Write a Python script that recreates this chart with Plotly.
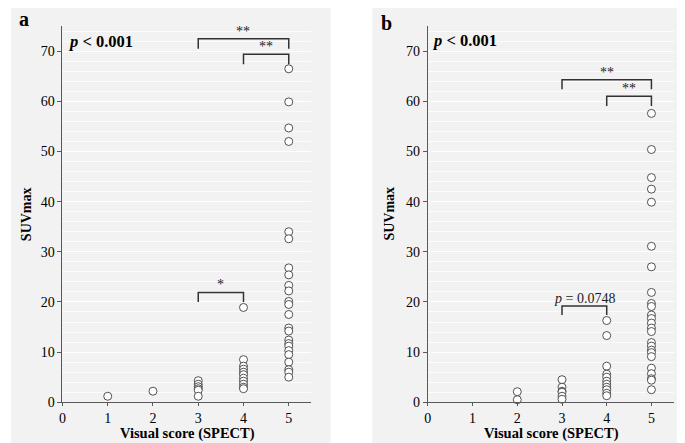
import plotly.graph_objects as go

# ---------------- data ----------------
x_ticks = [0, 1, 2, 3, 4, 5]
y_ticks = [0, 10, 20, 30, 40, 50, 60, 70]

# Panel a: SUVmax by visual score
a_score1 = [1.2]
a_score2 = [2.2]
a_score3 = [4.3, 3.6, 3.1, 2.7, 2.4, 1.2]
a_score4 = [18.9, 8.5, 7.2, 6.6, 6.0, 5.5, 4.8, 4.2, 3.6, 3.0, 2.7]
a_score5 = [66.5, 59.9, 54.7, 52.0, 34.0, 32.6, 26.8, 25.4, 23.3, 22.2,
            20.1, 19.5, 17.5, 14.8, 14.2, 12.4, 11.7, 11.2, 10.3, 9.5,
            8.0, 6.5, 6.0, 5.0]

# Panel b
b_score2 = [2.1, 0.5]
b_score3 = [4.5, 3.0, 2.2, 2.0, 1.2, 0.6]
b_score4 = [16.3, 13.3, 7.2, 5.6, 5.0, 4.2, 3.6, 3.0, 2.5, 1.8, 1.3]
b_score5 = [57.6, 50.4, 44.8, 42.5, 39.9, 31.1, 27.0, 21.9, 19.7, 19.1,
            17.4, 16.7, 15.8, 14.8, 14.1, 11.9, 11.2, 10.4, 9.9, 9.1,
            6.8, 5.7, 4.7, 4.4, 2.5]

# significance brackets: (from score, to score, bar level, leg level, label)
a_brackets = [(3, 5, 72.5, 70.5, "**"), (4, 5, 69.4, 67.4, "**"), (3, 4, 21.9, 20.0, "*")]
b_brackets = [(3, 5, 64.3, 62.4, "**"), (4, 5, 61.0, 59.1, "**"),
              (3, 4, 19.2, 17.4, "<i>p</i> = 0.0748")]

panel_labels = ["a", "b"]
p_text = "<b><i>p</i> &lt; 0.001</b>"
x_title = "Visual score (SPECT)"
y_title = "SUVmax"

# ---------------- style ----------------
FONT = "Liberation Serif"
BG = "#f2f2f2"
AX = "#595959"


def groups_to_xy(groups):
    xs, ys = [], []
    for s, vals in groups:
        xs += [s] * len(vals)
        ys += vals
    return xs, ys


ax, ay = groups_to_xy([(1, a_score1), (2, a_score2), (3, a_score3), (4, a_score4), (5, a_score5)])
bx, by = groups_to_xy([(2, b_score2), (3, b_score3), (4, b_score4), (5, b_score5)])

marker = dict(symbol="circle", size=8, color="white", line=dict(color="#404040", width=0.9))

fig = go.Figure()
fig.add_trace(go.Scatter(x=ax, y=ay, mode="markers", marker=marker, xaxis="x", yaxis="y",
                         showlegend=False, cliponaxis=False))
fig.add_trace(go.Scatter(x=bx, y=by, mode="markers", marker=marker, xaxis="x2", yaxis="y2",
                         showlegend=False, cliponaxis=False))

W, H = 685, 443
ydom = [1 - 401.5 / H, 1 - 18.5 / H]

xcommon = dict(range=[0, 5.5], tickvals=x_ticks, ticks="outside", ticklen=3, tickcolor=AX,
               showline=True, linecolor=AX, linewidth=1, showgrid=False, zeroline=False,
               tickfont=dict(family=FONT, size=14, color="black"), fixedrange=True)
ycommon = dict(range=[0, 75], tickvals=y_ticks, ticks="outside", ticklen=4, tickcolor=AX,
               showline=True, linecolor=AX, linewidth=1, showgrid=True, gridcolor="white",
               gridwidth=1.2, zeroline=False,
               minor=dict(dtick=2, showgrid=True, gridcolor="rgba(255,255,255,0.75)", gridwidth=0.8),
               tickfont=dict(family=FONT, size=14, color="black"), fixedrange=True)

fig.update_layout(
    width=W, height=H, margin=dict(l=0, r=0, t=0, b=0),
    paper_bgcolor="white", plot_bgcolor=BG,
    xaxis=dict(domain=[51.7 / W, 301.7 / W], anchor="y", **xcommon),
    yaxis=dict(domain=ydom, anchor="x", **ycommon),
    xaxis2=dict(domain=[418.7 / W, 665.7 / W], anchor="y2", **xcommon),
    yaxis2=dict(domain=ydom, anchor="x2", **ycommon),
)

shapes = [
    dict(type="rect", xref="paper", yref="paper", x0=0, x1=321 / W, y0=0, y1=1,
         fillcolor=BG, line=dict(width=0), layer="below"),
    dict(type="rect", xref="paper", yref="paper", x0=363 / W, x1=1, y0=0, y1=1,
         fillcolor=BG, line=dict(width=0), layer="below"),
]
annotations = []

for brackets, xr, yr in [(a_brackets, "x", "y"), (b_brackets, "x2", "y2")]:
    for x0, x1, ybar, yleg, lab in brackets:
        shapes.append(dict(type="path", xref=xr, yref=yr,
                           path=f"M {x0},{yleg} L {x0},{ybar} L {x1},{ybar} L {x1},{yleg}",
                           line=dict(color="#333333", width=1.5), layer="above"))
        annotations.append(dict(x=(x0 + x1) / 2, y=ybar, xref=xr, yref=yr, text=lab,
                                showarrow=False, yanchor="bottom", yshift=-2,
                                font=dict(family=FONT, size=14, color="#222")))


def txt(x, y, text, size, xanchor="center", angle=0):
    return dict(x=x / W, y=1 - y / H, xref="paper", yref="paper", text=text, showarrow=False,
                xanchor=xanchor, yanchor="middle", textangle=angle,
                font=dict(family=FONT, size=size, color="black"))


annotations.append(txt(12.7, 11.7, f"<b>{panel_labels[0]}</b>", 20))
annotations.append(txt(376.7, 15, f"<b>{panel_labels[1]}</b>", 20))
annotations.append(txt(55, 34, p_text, 16.5, xanchor="left"))
annotations.append(txt(421, 33, p_text, 16.5, xanchor="left"))
annotations.append(txt(177, 433, f"<b>{x_title}</b>", 14.5))
annotations.append(txt(542.7, 433, f"<b>{x_title}</b>", 14.5))
annotations.append(txt(15, 210, f"<b>{y_title}</b>", 14, angle=-90))
annotations.append(txt(380, 209, f"<b>{y_title}</b>", 14, angle=-90))

fig.update_layout(shapes=shapes, annotations=annotations)
fig.write_html("out.html")
